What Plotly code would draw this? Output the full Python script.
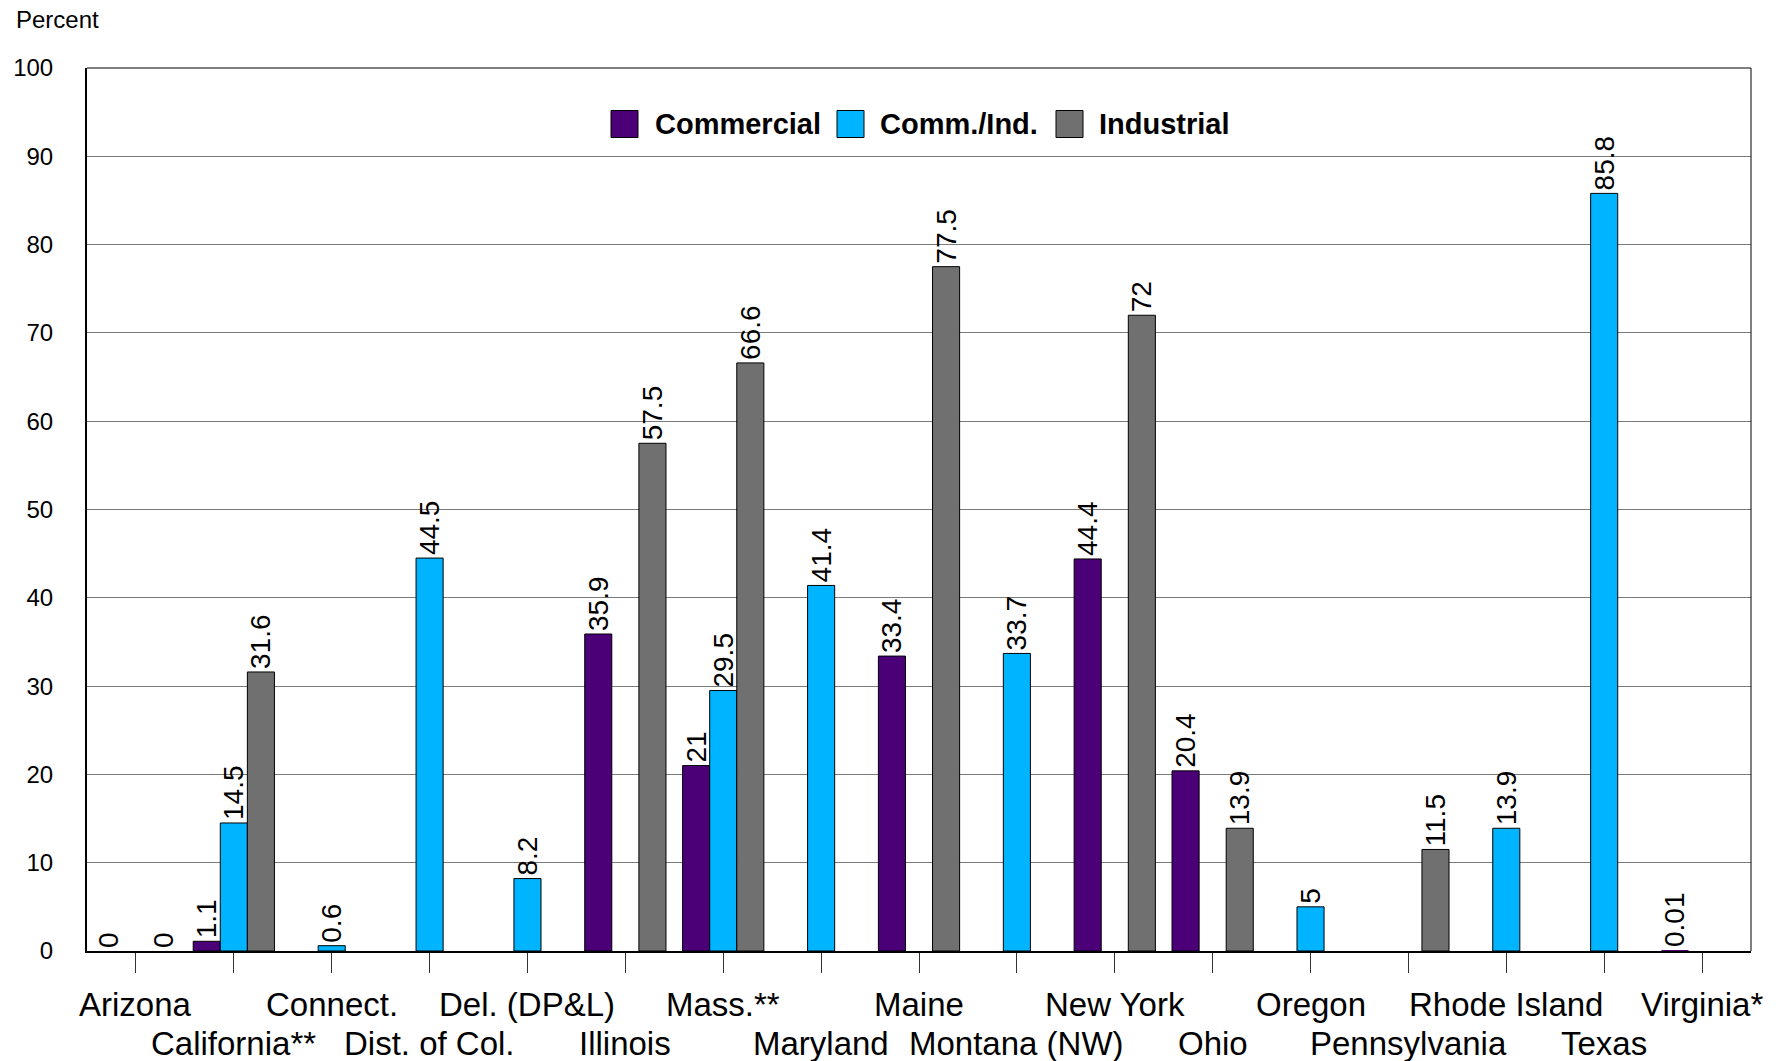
import plotly.graph_objects as go

# Categories (x axis) and the share, in percent, for each customer class
states = ["Arizona", "California**", "Connect.", "Dist. of Col.", "Del. (DP&L)",
          "Illinois", "Mass.**", "Maryland", "Maine", "Montana (NW)", "New York",
          "Ohio", "Oregon", "Pennsylvania", "Rhode Island", "Texas", "Virginia*"]

commercial = [0, 1.1, None, None, None, 35.9, 21, None, 33.4, None, 44.4,
              20.4, None, None, None, None, 0.01]
comm_ind = [None, 14.5, 0.6, 44.5, 8.2, None, 29.5, 41.4, None, 33.7, None,
            None, 5, None, 13.9, 85.8, None]
industrial = [0, 31.6, None, None, None, 57.5, 66.6, None, 77.5, None, 72,
              13.9, None, 11.5, None, None, None]

y_ticks = list(range(0, 101, 10))

series = [
    ("Commercial", commercial, "#4B0078"),
    ("Comm./Ind.", comm_ind, "#00B4FF"),
    ("Industrial", industrial, "#707070"),
]

FONT = "Arial, Liberation Sans, sans-serif"
W, H = 1779, 1061
ML, MR, MT, MB = 87, 28, 68, 110
PW, PH = W - ML - MR, H - MT - MB


def px_x(p):
    return (p - ML) / PW


def px_y(p):
    return 1 - (p - MT) / PH


fig = go.Figure()
for name, vals, color in series:
    # no outline on bars that are too short to show any height
    outline = [0 if (v is None or v < 0.3) else 1 for v in vals]
    fig.add_trace(go.Bar(
        x=states, y=vals, name=name, showlegend=False,
        marker=dict(color=color, line=dict(color="black", width=outline)),
        texttemplate="%{y}", textposition="outside", textangle=-90,
        constraintext="none", cliponaxis=False,
        textfont=dict(family=FONT, size=28, color="black"),
    ))

# Legend drawn inside the plot: swatch left edges and label left edges (px)
swatch_left = [611, 837, 1056]
label_left = [653, 878, 1097]
SW, LEG_Y = 27, 124
for (name, _, color), sx, lx in zip(series, swatch_left, label_left):
    fig.add_shape(type="rect", xref="paper", yref="paper",
                  x0=px_x(sx), x1=px_x(sx + SW),
                  y0=px_y(LEG_Y + SW / 2), y1=px_y(LEG_Y - SW / 2),
                  fillcolor=color, line=dict(color="black", width=1))
    fig.add_annotation(x=px_x(lx), xref="paper", xanchor="left",
                       y=px_y(LEG_Y), yref="paper", yanchor="middle",
                       text=f"<b>{name}</b>", showarrow=False,
                       font=dict(family=FONT, size=29, color="black"))

# Two-row category labels below the axis
for i, s in enumerate(states):
    fig.add_annotation(
        x=s, xref="x", y=0, yref="paper", yanchor="middle",
        yshift=-53 if i % 2 == 0 else -92,
        text=s, showarrow=False,
        font=dict(family=FONT, size=33, color="black"),
    )

fig.add_annotation(
    x=0, xref="paper", xshift=-73, xanchor="left",
    y=1, yref="paper", yshift=49, yanchor="middle",
    text="Percent", showarrow=False,
    font=dict(family=FONT, size=24, color="black"),
)

# Thin frame on the top and right sides
fig.add_shape(type="line", xref="paper", yref="paper", x0=0, x1=1, y0=1, y1=1,
              line=dict(color="black", width=1))
fig.add_shape(type="line", xref="paper", yref="paper", x0=1, x1=1, y0=0, y1=1,
              line=dict(color="black", width=1))

fig.update_layout(
    width=W, height=H,
    margin=dict(l=ML, r=MR, t=MT, b=MB),
    paper_bgcolor="white", plot_bgcolor="white",
    barmode="group", bargap=0.17, bargroupgap=0,
    font=dict(family=FONT, color="black"),
    showlegend=False,
    xaxis=dict(
        type="category", range=[-0.5, len(states) - 0.5],
        showticklabels=False, ticks="outside", ticklen=20, tickwidth=1,
        tickcolor="#333333", showgrid=False,
        showline=True, linecolor="black", linewidth=2, zeroline=False,
    ),
    yaxis=dict(
        range=[0, 100], tickvals=y_ticks, ticks="", ticklabelstandoff=27,
        tickfont=dict(family=FONT, size=24, color="black"),
        showgrid=True, gridcolor="#7a7a7a", gridwidth=1,
        showline=True, linecolor="black", linewidth=2, zeroline=False,
    ),
)

fig.write_html("out.html")
